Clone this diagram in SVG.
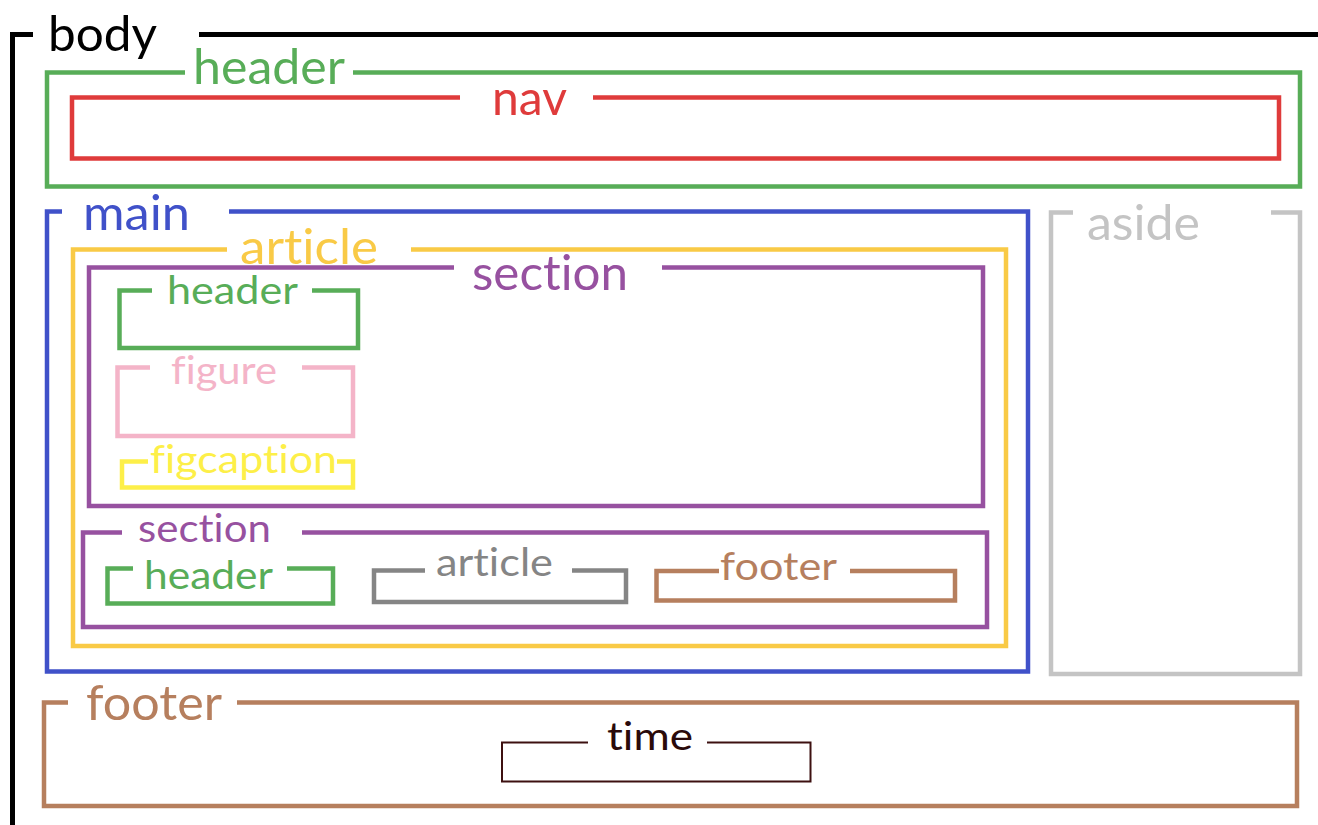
<svg xmlns="http://www.w3.org/2000/svg" width="1318" height="825" viewBox="0 0 1318 825">
<style>
  .box { fill: none; stroke-width: 4.5; stroke-linecap: butt; stroke-linejoin: miter; }
  .lbl { font-family: Lato, "Open Sans", "Liberation Sans", sans-serif; font-size: 48px; font-variant-ligatures: none; }
  .sm { font-size: 39px; }
  .black { stroke: #000000; } .t-black { fill: #000000; }
  .green { stroke: #58ad58; } .t-green { fill: #58ad58; }
  .red { stroke: #df3b3b; } .t-red { fill: #df3b3b; }
  .blue { stroke: #4051c9; } .t-blue { fill: #4051c9; }
  .lgray { stroke: #c4c4c4; } .t-lgray { fill: #c4c4c4; }
  .orange { stroke: #f9ca46; } .t-orange { fill: #f9ca46; }
  .purple { stroke: #9751a0; } .t-purple { fill: #9751a0; }
  .pink { stroke: #f4b4c8; } .t-pink { fill: #f4b4c8; }
  .yellow { stroke: #fdef48; } .t-yellow { fill: #fdef48; }
  .gray { stroke: #858585; } .t-gray { fill: #858585; }
  .brown { stroke: #b67f5e; } .t-brown { fill: #b67f5e; }
  .dark { stroke: #3d1010; stroke-width: 2; } .t-dark { fill: #2a0a0a; }
</style>
<rect width="1318" height="825" fill="#ffffff"/>
<g id="connectors"/>
<g id="body">
  <path class="box black" d="M33,34.5 H12.5 V826 M199,34.5 H1320" style="stroke-width:5"/>
  <text class="lbl t-black" x="48" y="51" textLength="109" lengthAdjust="spacingAndGlyphs">body</text>
</g>
<g id="header">
  <path class="box green" d="M185,72.5 H47 V186.5 H1300 V72.5 H353"/>
  <text class="lbl t-green" x="193" y="84" textLength="152" lengthAdjust="spacingAndGlyphs">header</text>
</g>
<g id="nav">
  <path class="box red" d="M460,97.5 H72 V158.5 H1279 V97.5 H593"/>
  <text class="lbl t-red" x="492" y="115" textLength="75" lengthAdjust="spacingAndGlyphs">nav</text>
</g>
<g id="main">
  <path class="box blue" d="M62,211.5 H47 V671.5 H1028 V211.5 H229"/>
  <text class="lbl t-blue" x="83" y="230" textLength="107" lengthAdjust="spacingAndGlyphs">main</text>
</g>
<g id="aside">
  <path class="box lgray" d="M1073,212.5 H1051 V674 H1300 V212.5 H1271"/>
  <text class="lbl t-lgray" x="1087" y="240" textLength="113" lengthAdjust="spacingAndGlyphs">aside</text>
</g>
<g id="article">
  <path class="box orange" d="M227,249.5 H73 V646 H1006 V249.5 H411"/>
  <text class="lbl t-orange" x="240" y="264" textLength="138" lengthAdjust="spacingAndGlyphs">article</text>
</g>
<g id="section">
  <path class="box purple" d="M454,267.5 H89 V506 H983 V267.5 H662"/>
  <text class="lbl t-purple" x="472" y="290" textLength="156" lengthAdjust="spacingAndGlyphs">section</text>
</g>
<g id="section-header">
  <path class="box green" d="M152,290.5 H119.5 V348 H358 V290.5 H312"/>
  <text class="lbl sm t-green" x="167" y="304" textLength="131" lengthAdjust="spacingAndGlyphs">header</text>
</g>
<g id="figure">
  <path class="box pink" d="M150,367.5 H117.5 V436 H353 V367.5 H302"/>
  <text class="lbl sm t-pink" x="171" y="384" textLength="106" lengthAdjust="spacingAndGlyphs">figure</text>
</g>
<g id="figcaption">
  <path class="box yellow" d="M148,461.5 H122 V487.5 H353 V461.5 H337"/>
  <text class="lbl sm t-yellow" x="150" y="473" textLength="187" lengthAdjust="spacingAndGlyphs">figcaption</text>
</g>
<g id="section2">
  <path class="box purple" d="M122,532.5 H83 V627 H987 V532.5 H302"/>
  <text class="lbl sm t-purple" x="138" y="542" textLength="133" lengthAdjust="spacingAndGlyphs">section</text>
</g>
<g id="section2-header">
  <path class="box green" d="M133,568.5 H107.5 V603.5 H333 V568.5 H287"/>
  <text class="lbl sm t-green" x="144" y="589" textLength="129" lengthAdjust="spacingAndGlyphs">header</text>
</g>
<g id="section2-article">
  <path class="box gray" d="M425,570.5 H374 V602 H626 V570.5 H572"/>
  <text class="lbl sm t-gray" x="436" y="576" textLength="117" lengthAdjust="spacingAndGlyphs">article</text>
</g>
<g id="section2-footer">
  <path class="box brown" d="M719,571 H656.5 V600.5 H955 V571 H850"/>
  <text class="lbl sm t-brown" x="720" y="580" textLength="117" lengthAdjust="spacingAndGlyphs">footer</text>
</g>
<g id="footer">
  <path class="box brown" d="M68,702.5 H44 V806 H1297 V702.5 H237"/>
  <text class="lbl t-brown" x="86" y="720" textLength="136" lengthAdjust="spacingAndGlyphs">footer</text>
</g>
<g id="time">
  <path class="box dark" d="M588,742.5 H502 V781.5 H810.5 V742.5 H707"/>
  <text class="lbl sm t-dark" x="607" y="750" textLength="86" lengthAdjust="spacingAndGlyphs">time</text>
</g>
</svg>
